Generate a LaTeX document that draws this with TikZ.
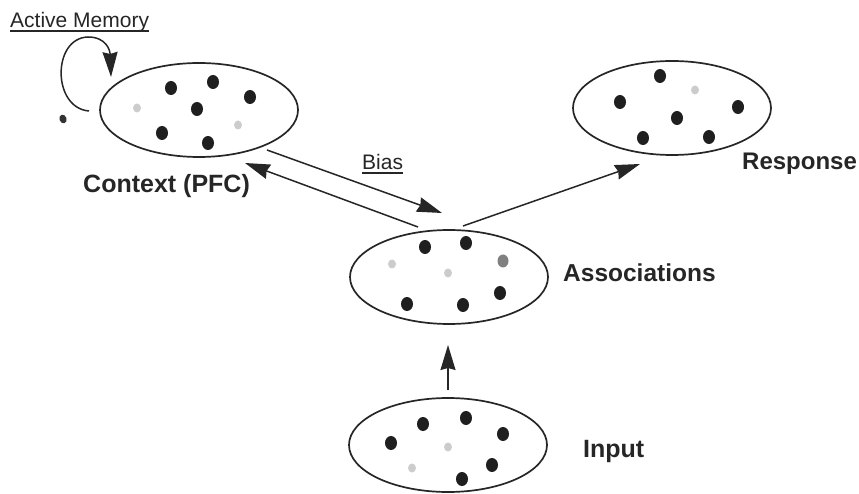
\documentclass[tikz,border=0pt]{standalone}
\usepackage{fontspec}
\setmainfont{Liberation Sans}
\usetikzlibrary{shapes.geometric,arrows.meta,calc}

\begin{document}
\begin{tikzpicture}[x=1pt,y=-1pt,
  pool/.style={ellipse,draw=black!85,line width=1.7pt,minimum width=198pt,minimum height=94pt,inner sep=0pt},
  unit/.style={ellipse,fill=black!88,minimum width=12pt,minimum height=14pt,inner sep=0pt},
  faint/.style={ellipse,fill=black!20,minimum width=8pt,minimum height=9pt,inner sep=0pt},
  grey/.style={ellipse,fill=black!50,minimum width=11pt,minimum height=13pt,inner sep=0pt},
  link/.style={draw=black!85,line width=1.5pt,-{Stealth[length=25pt,width=15pt,inset=2pt]}},
  lbl/.style={inner sep=0pt,anchor=base west,text=black!85,font=\bfseries\fontsize{25pt}{30pt}\selectfont},
  tag/.style={inner sep=0pt,anchor=base west,text=black!85,font=\fontsize{21pt}{25pt}\selectfont}]

\useasboundingbox (0,0) rectangle (859,494);

% populations of units
\node[pool] (ctx)   at (199,110) {};
\node[pool] (resp)  at (672,108) {};
\node[pool] (assoc) at (449,277) {};
\node[pool] (inp)   at (448,445) {};

% context units
\foreach \p [count=\i] in {(171,88),(213,82),(250,97),(197,109),(162,133),(208,143)}
  \node[unit] (ctx-u\i) at \p {};
\node[faint] (ctx-f1) at (137,108) {};
\node[faint] (ctx-f2) at (238,125) {};

% response units
\foreach \p [count=\i] in {(660,76),(620,102),(738,107),(677,118),(643,138),(709,137)}
  \node[unit] (resp-u\i) at \p {};
\node[faint] (resp-f1) at (695,90) {};

% association units
\foreach \p [count=\i] in {(425,247),(466,243),(500,293),(407,304),(463,305)}
  \node[unit] (assoc-u\i) at \p {};
\node[grey]  (assoc-g1) at (503,261) {};
\node[faint] (assoc-f1) at (392,264) {};
\node[faint] (assoc-f2) at (448,273) {};

% input units
\foreach \p [count=\i] in {(423,424),(466,418),(503,434),(391,443),(492,465),(462,479)}
  \node[unit] (inp-u\i) at \p {};
\node[faint] (inp-f1) at (448,447) {};
\node[faint] (inp-f2) at (412,468) {};

% stray speck beside the context pool
\node[ellipse,fill=black!80,minimum width=7pt,minimum height=9pt,inner sep=0pt,rotate=20] (speck) at (63,119) {};

% connections
\draw[link] ($(ctx.center)+(68,40)$) -- ($(assoc.center)+(-7,-64)$);
\draw[link] ($(assoc.center)+(-31,-50)$) -- ($(ctx.center)+(46,53)$);
\draw[link] ($(assoc.center)+(14,-51)$) -- ($(resp.center)+(-32,56)$);
\draw[link] ($(inp.center)+(0,-55)$) -- ($(assoc.center)+(-1,68)$);

% recurrent loop on the context pool
\draw[link] ($(ctx.center)+(-110,1)$) .. controls (52,108) and (52,38) .. (88,37)
  .. controls (106,37) and (110,50) .. ($(ctx.center)+(-88,-33)$);

% labels
\node[tag] (am) at (10,28) {Active Memory};
\draw[black!85,line width=1.2pt] ([yshift=-3pt]am.base west) -- ([yshift=-3pt]am.base east);
\node[tag] (bias) at (362,170) {Bias};
\draw[black!85,line width=1.2pt] ([yshift=-3pt]bias.base west) -- ([yshift=-3pt]bias.base east);
\node[lbl] (ctxlbl)   at (83,193)  {Context (PFC)};
\node[lbl,font=\bfseries\fontsize{24pt}{29pt}\selectfont] (resplbl) at (742,170) {Response};
\node[lbl,font=\bfseries\fontsize{24.5pt}{29pt}\selectfont] (assoclbl) at (563,282) {Associations};
\node[lbl] (inplbl)   at (583,457) {Input};

\end{tikzpicture}
\end{document}
